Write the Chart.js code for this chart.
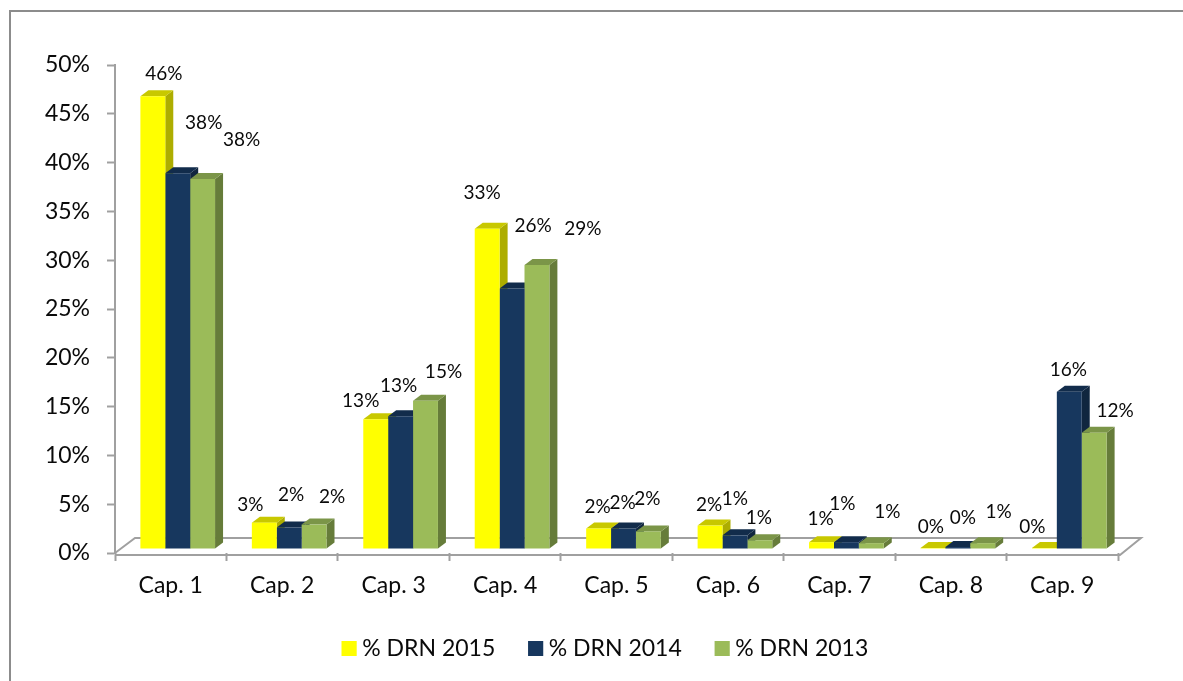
<!DOCTYPE html>
<html>
<head>
<meta charset="utf-8">
<script src="https://cdn.jsdelivr.net/npm/chart.js@4"></script>
<style>
  body { margin: 0; background: #fff; }
  .frame { position: absolute; left: 9px; top: 10px; width: 1174px; height: 671px; border-left: 2px solid #8c8c8c; border-top: 2px solid #8c8c8c; box-sizing: border-box; }
  canvas { position: absolute; left: 0; top: 0; }
</style>
</head>
<body>
<div class="frame"></div>
<canvas id="chart" width="1183" height="681"></canvas>
<script>
const categories = ['Cap. 1', 'Cap. 2', 'Cap. 3', 'Cap. 4', 'Cap. 5', 'Cap. 6', 'Cap. 7', 'Cap. 8', 'Cap. 9'];
const seriesNames = ['% DRN 2015', '% DRN 2014', '% DRN 2013'];
const values2015 = [46.4, 2.7, 13.3, 32.8, 2.1, 2.4, 0.7, 0.1, 0.1];
const values2014 = [38.5, 2.2, 13.6, 26.7, 2.1, 1.4, 0.7, 0.2, 16.1];
const values2013 = [37.9, 2.5, 15.2, 29.1, 1.8, 0.9, 0.6, 0.6, 11.9];
const labels2015 = ['46%', '3%', '13%', '33%', '2%', '2%', '1%', '0%', '0%'];
const labels2014 = ['38%', '2%', '13%', '26%', '2%', '1%', '1%', '0%', '16%'];
const labels2013 = ['38%', '2%', '15%', '29%', '2%', '1%', '1%', '1%', '12%'];

// label offsets from the top centre of each bar, [dx, dy]
const offsets = [
  [[12, -22], [-13, -18], [-14, -18], [-4, -36], [0, -22], [0, -21], [0, -23], [-1, -21], [-11, -21]],
  [[27, -50], [3, -33], [-1, -30], [22, -63], [0, -26], [1, -36], [-3, -38], [6, -29], [0, -22]],
  [[40, -39], [19, -28], [19, -29], [47, -36], [0, -33], [0, -22], [17, -31], [17, -31], [22, -22]]
];
const seriesLabels = [labels2015, labels2014, labels2013];

const fronts = ['#ffff00', '#17375e', '#9bbb59'];
const tops = ['#c8c800', '#122c4b', '#7b9548'];
const sides = ['#adad00', '#10263f', '#667c3a'];
const axisColor = '#a0a0a0';
const textColor = '#0a0a0a';
const fontName = 'Lato';
const depthX = 8, depthY = 6, liftX = 7, liftY = 4;
const legendShift = 46;

function poly(ctx, color, pts) {
  ctx.fillStyle = color;
  ctx.beginPath();
  pts.forEach((p, i) => i ? ctx.lineTo(p[0], p[1]) : ctx.moveTo(p[0], p[1]));
  ctx.closePath();
  ctx.fill();
}

// floor, bar sides and bar tops go under the native bars
const bars3d = {
  id: 'bars3d',
  afterLayout(chart) {
    chart.legend.left += legendShift;
    chart.legend.right += legendShift;
  },
  beforeDatasetsDraw(chart) {
    const ctx = chart.ctx, a = chart.chartArea;
    ctx.save();
    ctx.strokeStyle = axisColor;
    ctx.lineWidth = 2;
    ctx.beginPath();
    ctx.moveTo(a.left, a.bottom + 2);
    ctx.lineTo(a.right + 2, a.bottom + 2);
    ctx.lineTo(a.right + 23, a.bottom - 15);
    ctx.lineTo(a.left + 20, a.bottom - 15);
    ctx.lineTo(a.left, a.bottom);
    ctx.stroke();
    ctx.translate(liftX, -liftY);
    chart.data.datasets.forEach((ds, s) => {
      chart.getDatasetMeta(s).data.forEach(bar => {
        const l = bar.x - bar.width / 2, r = bar.x + bar.width / 2, t = bar.y, b = bar.base;
        poly(ctx, sides[s], [[r, t], [r + depthX, t - depthY], [r + depthX, b - depthY], [r, b]]);
        poly(ctx, tops[s], [[l, t], [l + depthX, t - depthY], [r + depthX, t - depthY], [r, t]]);
      });
    });
  },
  afterDatasetsDraw(chart) {
    const ctx = chart.ctx;
    ctx.fillStyle = textColor;
    ctx.font = '19px ' + fontName;
    ctx.textAlign = 'center';
    ctx.textBaseline = 'middle';
    chart.data.datasets.forEach((ds, s) => {
      chart.getDatasetMeta(s).data.forEach((bar, i) => {
        const o = offsets[s][i];
        ctx.fillText(seriesLabels[s][i], bar.x + o[0] - 1, bar.y + o[1]);
      });
    });
    ctx.restore();
  },
  // legend boxes are narrow natively, widen them so the text sits close
  afterDraw(chart) {
    const ctx = chart.ctx;
    chart.legend.legendHitBoxes.forEach((box, i) => {
      ctx.fillStyle = fronts[i];
      ctx.fillRect(box.left, box.top + box.height / 2 - 7.5, 15, 15);
    });
  }
};

new Chart(document.getElementById('chart'), {
  type: 'bar',
  data: {
    labels: categories,
    datasets: [
      { label: seriesNames[0], data: values2015, backgroundColor: fronts[0] },
      { label: seriesNames[1], data: values2014, backgroundColor: fronts[1] },
      { label: seriesNames[2], data: values2013, backgroundColor: fronts[2] }
    ]
  },
  options: {
    responsive: false,
    animation: false,
    events: [],
    layout: { padding: { top: 65, right: 65, bottom: 11, left: 0 } },
    datasets: { bar: { categoryPercentage: 0.67, barPercentage: 1 } },
    plugins: {
      tooltip: { enabled: false },
      legend: {
        position: 'bottom',
        labels: {
          boxWidth: 9, boxHeight: 15, padding: 33, color: textColor,
          font: { family: fontName, size: 23 }
        }
      }
    },
    scales: {
      x: {
        afterFit(scale) { scale.height = 51; },
        border: { display: false },
        grid: { drawOnChartArea: false, tickLength: 8, color: axisColor, tickColor: axisColor, tickWidth: 2 },
        ticks: { color: textColor, padding: 11, font: { family: fontName, size: 23 } }
      },
      y: {
        min: 0, max: 50,
        afterFit(scale) { scale.width = 115; },
        border: { color: axisColor, width: 2 },
        grid: { drawOnChartArea: false, tickLength: 8, tickColor: axisColor, tickWidth: 2 },
        ticks: {
          stepSize: 5, color: textColor, padding: 17,
          font: { family: fontName, size: 23 },
          callback: v => v + '%'
        }
      }
    }
  },
  plugins: [bars3d]
});
</script>
</body>
</html>
